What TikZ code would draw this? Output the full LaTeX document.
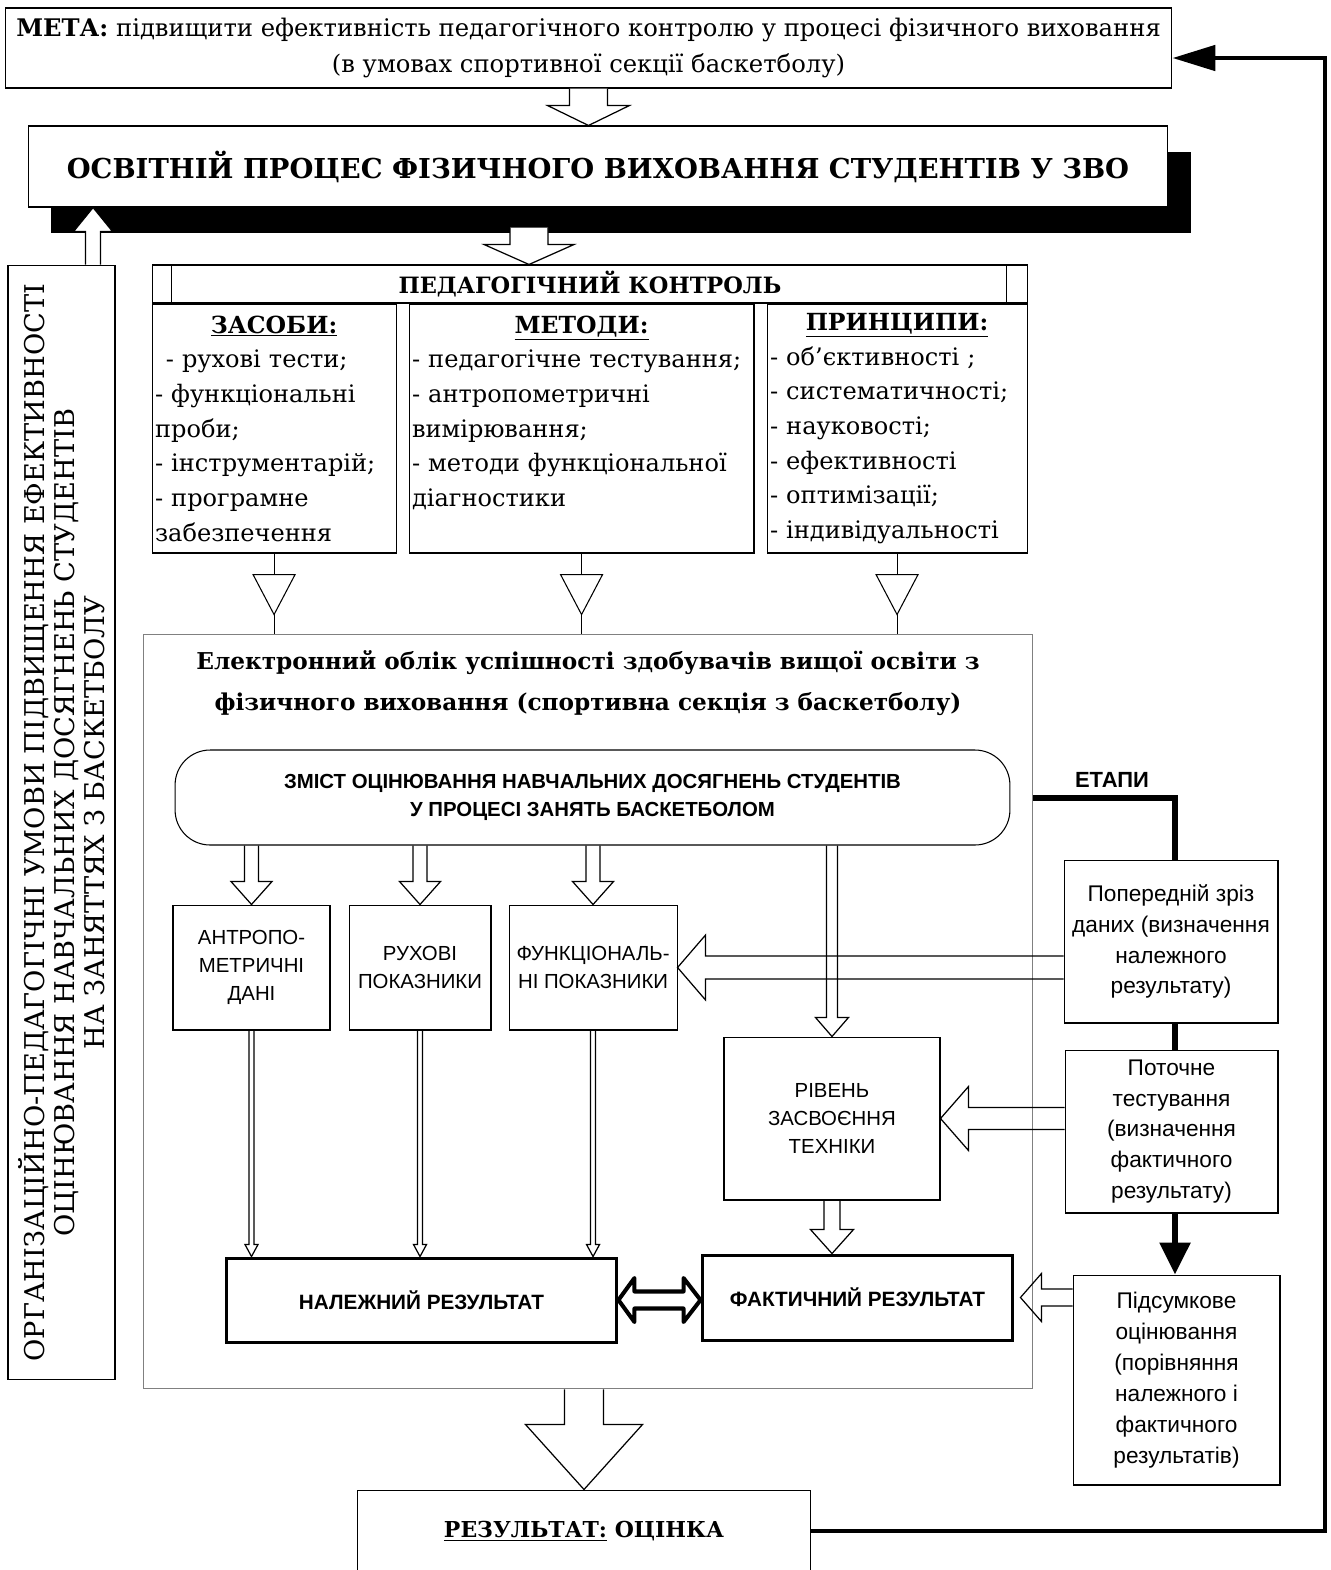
\documentclass[tikz,border=0pt]{standalone}
\usepackage{fontspec}
\setmainfont{DejaVu Serif}
\setsansfont{Liberation Sans}
\usetikzlibrary{positioning,calc,shadows,arrows.meta}

\newcommand{\fsz}[2]{\fontsize{#1}{#2}\selectfont}
\newcommand{\coltitle}[1]{\hbox to \hsize{\hss\fsz{13.4}{19.75}\bfseries\underline{#1}\hss}}

% block arrows: [options]{tail}{tip}{shaft half width}{head half width}{head length}
\newcommand{\blockdown}[6][]{%
  \draw[blockarr,#1] ($(#2)+(-#4,0)$) -- ($(#3)+(-#4,-#6)$) -- ($(#3)+(-#5,-#6)$) -- (#3)
    -- ($(#3)+(#5,-#6)$) -- ($(#3)+(#4,-#6)$) -- ($(#2)+(#4,0)$);}
\newcommand{\blockup}[6][]{%
  \draw[blockarr,#1] ($(#2)+(-#4,0)$) -- ($(#3)+(-#4,#6)$) -- ($(#3)+(-#5,#6)$) -- (#3)
    -- ($(#3)+(#5,#6)$) -- ($(#3)+(#4,#6)$) -- ($(#2)+(#4,0)$);}
\newcommand{\blockleft}[6][]{%
  \draw[blockarr,#1] ($(#2)+(0,-#4)$) -- ($(#3)+(#6,-#4)$) -- ($(#3)+(#6,-#5)$) -- (#3)
    -- ($(#3)+(#6,#5)$) -- ($(#3)+(#6,#4)$) -- ($(#2)+(0,#4)$);}

\tikzset{
    plainbox/.style={
        draw,
        line width=0.6pt,
        fill=white,
        align=center,
        inner sep=2pt
    },
    colbox/.style={
        draw,
        line width=0.6pt,
        fill=white,
        align=left,
        text width=#1,
        inner xsep=0.06cm,
        minimum height=4.98cm,
        font=\fsz{13.7}{19.75}
    },
    smallbox/.style={plainbox, minimum height=2.5cm, font=\sffamily\fsz{11.6}{16}},
    resbox/.style={plainbox, line width=1.7pt, font=\sffamily\bfseries\fsz{11.8}{13}},
    etapbox/.style={plainbox, font=\sffamily\fsz{12.9}{17.6}},
    blockarr/.style={draw, line width=0.7pt, line join=miter},
    dblarr/.style={draw, line width=2.3pt, line join=round},
    etapline/.style={line width=3.4pt},
    feedback/.style={line width=2.8pt}
}

\begin{document}
\begin{tikzpicture}[x=0.02cm, y=-0.02cm]
\useasboundingbox (0,0) rectangle (1331,1570);

% мета та освітній процес
\node[plainbox, minimum width=23.34cm, minimum height=1.6cm, font=\fsz{13.8}{20}] (meta) at (588.5,48)
    {\textbf{МЕТА:} підвищити ефективність педагогічного контролю у процесі фізичного виховання\\(в умовах спортивної секції баскетболу)};
\node[plainbox, minimum width=22.8cm, minimum height=1.62cm, font=\fsz{15.6}{19}\bfseries,
    drop shadow={shadow xshift=0.46cm, shadow yshift=-0.52cm, fill=black, opacity=1}] (osvita) at (598,166.5)
    {ОСВІТНІЙ ПРОЦЕС ФІЗИЧНОГО ВИХОВАННЯ СТУДЕНТІВ У ЗВО};

% умови
\node[plainbox, rotate=90, minimum width=22.3cm, minimum height=2.14cm, font=\fsz{15.5}{17}] (umovy) at (61.5,822.5)
    {ОРГАНІЗАЦІЙНО-ПЕДАГОГІЧНІ УМОВИ ПІДВИЩЕННЯ ЕФЕКТИВНОСТІ\\ОЦІНЮВАННЯ НАВЧАЛЬНИХ ДОСЯГНЕНЬ СТУДЕНТІВ\\НА ЗАНЯТТЯХ З БАСКЕТБОЛУ};

% педагогічний контроль
\node[plainbox, minimum width=17.52cm, minimum height=0.76cm, font=\fsz{12.8}{16}\bfseries] (kontrol) at (590,284) {ПЕДАГОГІЧНИЙ КОНТРОЛЬ};
\draw[line width=0.6pt] ([xshift=0.4cm]kontrol.north west) -- ([xshift=0.4cm]kontrol.south west);
\draw[line width=0.6pt] ([xshift=-0.44cm]kontrol.north east) -- ([xshift=-0.44cm]kontrol.south east);

\node[colbox=4.76cm, anchor=north west] (zasoby) at (kontrol.south west)
    {\coltitle{ЗАСОБИ:}\\
     \hspace*{0.45em}-~рухові~тести;\\
     -~функціональні\\
     проби;\\
     -~інструментарій;\\
     -~програмне\\
     забезпечення};
\node[colbox=6.78cm, right=0.24cm of zasoby] (metody)
    {\coltitle{МЕТОДИ:}\\
     -~педагогічне~тестування;\\
     -~антропометричні\\
     вимірювання;\\
     -~методи~функціональної\\
     діагностики\\
     \mbox{}};
\node[colbox=5.08cm, right=0.24cm of metody] (pryntsypy)
    {\coltitle{ПРИНЦИПИ:}\\
     -~об'єктивності~;\\
     -~систематичності;\\
     -~науковості;\\
     -~ефективності\\
     -~оптимізації;\\
     -~індивідуальності};

% електронний облік
\node[draw=black!50, line width=0.6pt, minimum width=17.8cm, minimum height=15.1cm] (oblik) at (588,1011.5) {};
\node[font=\fsz{13.2}{23.3}\bfseries, align=center] (oblikT) at (588,683)
    {Електронний облік успішності здобувачів вищої освіти з\\фізичного виховання (спортивна секція з баскетболу)};

\foreach \c in {zasoby,metody,pryntsypy}{
    \draw[line width=0.6pt] (\c.south) -- (\c.south|-oblik.north);
    \coordinate (m) at ($(\c.south)!0.5!(\c.south|-oblik.north)$);
    \draw[line width=0.6pt, fill=white] ($(m)+(-21,-19)$) -- ($(m)+(21,-19)$) -- ($(m)+(0,21)$) -- cycle;
}

\node[plainbox, rounded corners=0.7cm, minimum width=16.7cm, minimum height=1.9cm, font=\sffamily\bfseries\fsz{11.6}{16}] (zmist) at (592.5,797.5)
    {ЗМІСТ ОЦІНЮВАННЯ НАВЧАЛЬНИХ ДОСЯГНЕНЬ СТУДЕНТІВ\\У ПРОЦЕСІ ЗАНЯТЬ БАСКЕТБОЛОМ};

\node[smallbox, minimum width=3.14cm] (antro) at (251.5,967.5) {АНТРОПО-\\МЕТРИЧНІ\\ДАНІ};
\node[smallbox, minimum width=2.84cm, right=0.36cm of antro] (rukh) {РУХОВІ\\ПОКАЗНИКИ};
\node[smallbox, minimum width=3.36cm, right=0.34cm of rukh] (funk) {ФУНКЦІОНАЛЬ-\\НІ ПОКАЗНИКИ};
\node[smallbox, minimum width=4.32cm, minimum height=3.26cm, font=\sffamily\fsz{11.6}{15.7}] (riven) at (832,1118.5) {РІВЕНЬ\\ЗАСВОЄННЯ\\ТЕХНІКИ};

\node[resbox, minimum width=7.82cm, minimum height=1.68cm] (nalezh) at (421.5,1300) {НАЛЕЖНИЙ РЕЗУЛЬТАТ};
\node[resbox, minimum width=6.22cm, minimum height=1.7cm] (fakt) at (857.5,1297.5) {ФАКТИЧНИЙ РЕЗУЛЬТАТ};

% етапи
\node[font=\sffamily\bfseries\fsz{12.5}{14}] (etapy) at (1112,780) {ЕТАПИ};
\node[etapbox, minimum width=4.28cm, minimum height=3.26cm] (poper) at (1171,941.5)
    {Попередній зріз\\даних (визначення\\належного\\результату)};
\node[etapbox, minimum width=4.26cm, minimum height=3.26cm] (potoch) at (1171.5,1131.5)
    {Поточне\\тестування\\(визначення\\фактичного\\результату)};
\node[etapbox, minimum width=4.14cm, minimum height=4.2cm] (pidsum) at (1176.5,1380)
    {Підсумкове\\оцінювання\\(порівняння\\належного і\\фактичного\\результатів)};

\node[plainbox, minimum width=9.08cm, minimum height=1.64cm, font=\fsz{12.5}{15}\bfseries] (rezult) at (584,1531)
    {\underline{РЕЗУЛЬТАТ:} ОЦІНКА};

% стрілки
\blockdown[fill=white]{meta.south}{meta.south|-osvita.north}{19}{41}{20}
\coordinate (kin) at ([xshift=-1.22cm]kontrol.north);
\coordinate (kout) at ($(kin|-osvita.south)+(0,20)$);
\blockdown[fill=white]{kout}{kin}{19}{45}{20}
\coordinate (uin) at ([xshift=1.31cm]osvita.south west);
\blockup[fill=white]{uin|-umovy.east}{uin}{7.5}{19.5}{24}

\foreach \b in {antro,rukh,funk}{
    \blockdown{\b.north|-zmist.south}{\b.north}{7}{20.5}{23}
    \blockdown{\b.south}{\b.south|-nalezh.north}{2.5}{6.5}{12}
}
\blockdown{riven.north|-zmist.south}{riven.north}{5.5}{16.5}{19}
\blockdown{riven.south}{riven.south|-fakt.north}{8}{21.5}{24}
\blockleft{poper.west|-funk.east}{funk.east}{11.5}{32.5}{28}
\blockleft{potoch.west|-riven.east}{riven.east}{11}{32}{28}
\coordinate (fin) at ([xshift=0.12cm]fakt.east);
\blockleft{pidsum.west|-fin}{fin}{8.5}{24}{21}
\blockdown{rezult.north|-oblik.south}{rezult.north}{19.5}{58.5}{65}

\coordinate (dl) at (nalezh.east);
\coordinate (dr) at (nalezh.east-|fakt.west);
\draw[dblarr] (dl) -- ($(dl)+(16,-22)$) -- ($(dl)+(16,-8.5)$) -- ($(dr)+(-17,-8.5)$) -- ($(dr)+(-17,-22)$) -- (dr)
    -- ($(dr)+(-17,22)$) -- ($(dr)+(-17,8.5)$) -- ($(dl)+(16,8.5)$) -- ($(dl)+(16,22)$) -- cycle;

\coordinate (etapX) at ([xshift=0.08cm]poper.north);
\draw[etapline] (oblik.east|-zmist.east) -| (etapX);
\draw[etapline] (etapX|-poper.south) -- (etapX|-potoch.north);
\draw[etapline, -{Triangle[length=0.64cm, width=0.6cm]}] (etapX|-potoch.south) -- (etapX|-pidsum.north);

\coordinate (fb) at (1325,58);
\draw[feedback, -{Triangle[length=0.86cm, width=0.5cm]}] (rezult.east) -| (fb) -- (fb-|meta.east);
\end{tikzpicture}
\end{document}
